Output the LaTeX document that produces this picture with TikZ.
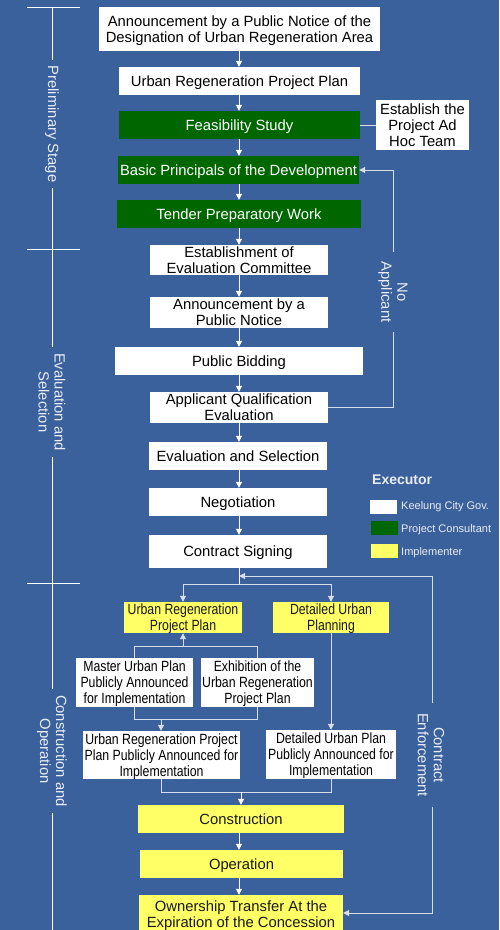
\documentclass[tikz,border=0pt]{standalone}
\usepackage{fontspec}
\setmainfont{Liberation Sans}
\newfontfamily\narrowfont[FakeStretch=0.83]{Liberation Sans}
\usetikzlibrary{arrows.meta}
\definecolor{bgblue}{RGB}{59,97,156}
\definecolor{consult}{RGB}{0,102,0}
\definecolor{implem}{RGB}{255,255,102}
\definecolor{linkc}{RGB}{214,222,236}
\definecolor{lighttext}{RGB}{232,236,244}

\begin{document}
\begin{tikzpicture}[x=1pt,y=-1pt,
  font=\fontsize{14.8}{16}\selectfont,
  box/.style={rectangle, inner sep=0pt, align=center, text depth=0pt},
  govbox/.style={box, fill=white, text=black},
  conbox/.style={box, fill=consult, text=white},
  impbox/.style={box, fill=implem, text=black!90},
  narrow/.style={font=\narrowfont\fontsize{14.8}{16}\selectfont},
  tip/.style={-{Triangle[width=6pt,length=6pt]}},
  arr/.style={draw=white, line width=1pt, tip},
  link/.style={draw=linkc, line width=1pt},
  linkarr/.style={link, tip},
  stagelab/.style={rotate=-90, fill=bgblue, text=lighttext, align=center, inner xsep=6pt, inner ysep=1pt},
  looplab/.style={rotate=-90, fill=bgblue, text=lighttext, align=center, inner xsep=10pt, inner ysep=1pt},
  swatch/.style={rectangle, inner sep=0pt, minimum width=27pt, minimum height=14pt},
  legtext/.style={anchor=west, inner sep=0pt, text=lighttext, font=\fontsize{11}{13}\selectfont},
]
% background and page extent
\fill[bgblue] (0,0) rectangle (499,930);
\useasboundingbox (0,0) rectangle (499,930);

% ---------- stage ruler on the left ----------
\draw[white, line width=1pt] (52,7) -- (52,935);
\foreach \ty in {7,249,583} \draw[white, line width=1pt] (27,\ty) -- (80,\ty);
\node[stagelab] (st1) at (52,124) {Preliminary Stage};
\node[stagelab] (st2) at (52,402) {Evaluation and\\Selection};
\node[stagelab] (st3) at (52,751) {Construction and\\Operation};

% ---------- preliminary stage ----------
\node[govbox, minimum width=281pt, minimum height=44pt] (n1) at (239.5,29)
  {Announcement by a Public Notice of the\\Designation of Urban Regeneration Area};
\node[govbox, minimum width=241pt, minimum height=28pt] (n2) at (239.5,81) {Urban Regeneration Project Plan};
\node[conbox, minimum width=241pt, minimum height=28pt] (n3) at (239.5,125) {Feasibility Study};
\node[govbox, minimum width=93pt, minimum height=50pt] (adhoc) at (422.5,125) {Establish the\\Project Ad\\Hoc Team};
\node[conbox, minimum width=241pt, minimum height=28pt] (n4) at (238.5,170) {Basic Principals of the Development};
\node[conbox, minimum width=244pt, minimum height=28pt] (n5) at (239,214) {Tender Preparatory Work};

% ---------- evaluation and selection ----------
\node[govbox, minimum width=178pt, minimum height=30pt] (n6) at (239,260) {Establishment of\\Evaluation Committee};
\node[govbox, minimum width=178pt, minimum height=31pt] (n7) at (239,312.5) {Announcement by a\\Public Notice};
\node[govbox, minimum width=248pt, minimum height=28pt] (n8) at (239,361) {Public Bidding};
\node[govbox, minimum width=178pt, minimum height=31pt] (n9) at (239,407.5) {Applicant Qualification\\Evaluation};
\node[govbox, minimum width=178pt, minimum height=28pt] (n10) at (238,456) {Evaluation and Selection};
\node[govbox, minimum width=178pt, minimum height=28pt] (n11) at (238,502) {Negotiation};
\node[govbox, minimum width=178pt, minimum height=33pt] (n12) at (238,551.5) {Contract Signing};

% ---------- construction and operation ----------
\node[impbox, narrow, minimum width=118pt, minimum height=31pt] (y1) at (183,617.5) {Urban Regeneration\\Project Plan};
\node[impbox, narrow, minimum width=116pt, minimum height=31pt] (y2) at (331,617.5) {Detailed Urban\\Planning};
\node[govbox, narrow, minimum width=117pt, minimum height=49pt] (m1) at (134.5,682.5) {Master Urban Plan\\Publicly Announced\\for Implementation};
\node[govbox, narrow, minimum width=113pt, minimum height=49pt] (m2) at (257.5,682.5) {Exhibition of the\\Urban Regeneration\\Project Plan};
\node[govbox, narrow, minimum width=157pt, minimum height=48pt] (p1) at (161.5,755) {Urban Regeneration Project\\Plan Publicly Announced for\\Implementation};
\node[govbox, narrow, minimum width=130pt, minimum height=49pt] (p2) at (331,754.5) {Detailed Urban Plan\\Publicly Announced for\\Implementation};
\node[impbox, minimum width=206pt, minimum height=28pt] (c1) at (241,819) {Construction};
\node[impbox, minimum width=203pt, minimum height=28pt] (c2) at (241.5,864) {Operation};
\node[impbox, minimum width=204pt, minimum height=38pt] (c3) at (241,914) {Ownership Transfer At the\\Expiration of the Concession};

% ---------- main flow ----------
\foreach \a/\b in {n1/n2,n2/n3,n3/n4,n4/n5,n5/n6,n6/n7,n7/n8,n8/n9,n9/n10,n10/n11,n11/n12,c1/c2,c2/c3}
  \draw[arr] (\a.south -| 239,0) -- (\b.north -| 239,0);
\draw[link] (n3.east) -- (adhoc.west);

% no applicant: back to the basic principles
\coordinate (nax) at (393,0);
\draw[linkarr] (n9.east) -- (n9.east -| nax) -- (n4.east -| nax) -- (n4.east);
\node[looplab] (nalab) at (393,292) {No\\Applicant};

% split after contract signing
\coordinate (cj) at (239,576);
\coordinate (j1) at (239,584);
\draw[white, line width=1pt] (n12.south -| 239,0) -- (j1);
\draw[linkarr] (j1) -| (y1.north);
\draw[linkarr] (j1) -| (y2.north);

% contract enforcement loop
\coordinate (cex) at (432,0);
\draw[link, {Triangle[width=6pt,length=6pt]}-{Triangle[width=6pt,length=6pt]}]
  (c3.east |- 0,913) -- (cex |- 0,913) -- (cex |- cj) -- (cj);
\node[looplab] (celab) at (431,755) {Contract\\Enforcement};

% urban regeneration branch
\coordinate (b1) at (183,646);
\draw[link] (m1.north) -- (m1.north |- b1) -- (m2.north |- b1) -- (m2.north);
\draw[linkarr] (b1) -- (y1.south);
\coordinate (b2) at (161,719);
\draw[link] (m1.south) -- (m1.south |- b2) -- (m2.south |- b2) -- (m2.south);
\draw[linkarr] (b2) -- (p1.north -| b2);

% detailed planning branch
\draw[linkarr] (y2.south) -- (p2.north -| y2.south);

% merge into construction
\coordinate (b3) at (241,792);
\draw[link] (p1.south -| b2) -- (b2 |- b3) -- (y2.south |- b3) -- (p2.south -| y2.south);
\draw[arr] (b3) -- (c1.north);

% ---------- legend ----------
\node[text=lighttext, font=\bfseries\fontsize{14}{16}\selectfont, anchor=west, inner sep=0pt] (exec) at (372,480) {Executor};
\node[swatch, fill=white] (lw) at (383.5,507) {};
\node[swatch, fill=consult] (lg) at (384,528) {};
\node[swatch, fill=implem] (ly) at (384,551) {};
\node[legtext] (lwt) at (401,507) {Keelung City Gov.};
\node[legtext] (lgt) at (401,530) {Project Consultant};
\node[legtext] (lyt) at (401,553) {Implementer};
\end{tikzpicture}
\end{document}
